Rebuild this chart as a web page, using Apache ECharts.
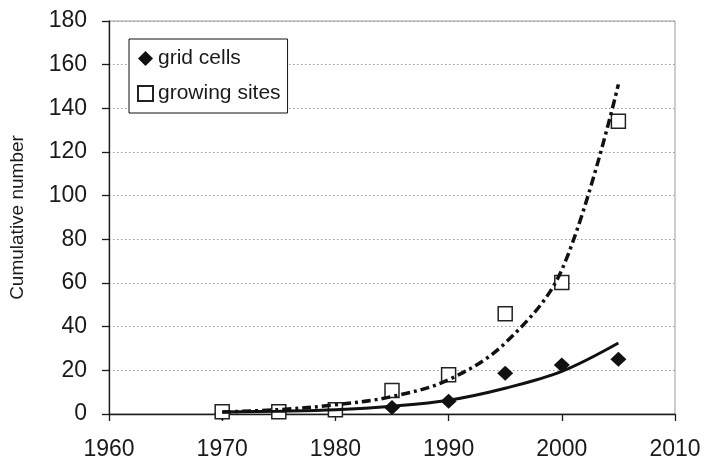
<!DOCTYPE html>
<html>
<head>
<meta charset="utf-8">
<script src="https://cdn.jsdelivr.net/npm/echarts@6/dist/echarts.min.js"></script>
<style>html,body{margin:0;padding:0;background:#fff}#c{width:704px;height:462px}</style>
</head>
<body>
<div id="c"></div>
<script>
var years = [1970, 1975, 1980, 1985, 1990, 1995, 2000, 2005];
var gridCells = [0.5, 1, 2, 3, 5.8, 18.7, 22.4, 25.1];
var growingSites = [1, 1, 2, 10.8, 18, 45.9, 60.2, 134.1];
var trendGrid = [0.9, 1.3, 2.0, 3.6, 6.3, 11.8, 19.5, 32.5];
var trendGrowing = [0.9, 2.0, 4.2, 8, 15.7, 32.5, 66, 151];
var xTicks = [1960, 1970, 1980, 1990, 2000, 2010];
var yTicks = [0, 20, 40, 60, 80, 100, 120, 140, 160, 180];

function pairs(xs, ys) { return xs.map(function (x, i) { return [x, ys[i]]; }); }

var FONT = 'Liberation Sans, Arial, sans-serif';
var chart = echarts.init(document.getElementById('c'), null, {renderer: 'canvas'});
chart.setOption({
  animation: false,
  backgroundColor: '#fff',
  grid: {left: 107, right: 29, top: 21, bottom: 48, show: true, borderColor: '#999', borderWidth: 1, backgroundColor: 'transparent'},
  legend: {
    data: ['grid cells', 'growing sites'],
    orient: 'vertical',
    left: 129, top: 39,
    padding: [9, 7, 9, 8],
    itemWidth: 15, itemHeight: 15, itemGap: 14,
    borderColor: '#111', borderWidth: 1,
    backgroundColor: '#fff',
    textStyle: {fontFamily: FONT, fontSize: 21, color: '#1a1a1a', lineHeight: 21}
  },
  xAxis: {
    type: 'value', min: xTicks[0], max: xTicks[xTicks.length - 1], interval: 10,
    axisLine: {show: true, lineStyle: {color: '#1a1a1a', width: 1.3}},
    axisTick: {show: true, inside: false, length: 7, lineStyle: {color: '#1a1a1a', width: 1.3}},
    axisLabel: {fontFamily: FONT, fontSize: 23, color: '#1a1a1a', margin: 24, formatter: function (v) { return String(v); }},
    splitLine: {show: false}
  },
  yAxis: {
    type: 'value', min: yTicks[0], max: yTicks[yTicks.length - 1], interval: 20,
    name: 'Cumulative number', nameLocation: 'middle', nameGap: 82, nameRotate: 90,
    nameTextStyle: {fontFamily: FONT, fontSize: 19, color: '#1a1a1a'},
    axisLine: {show: true, lineStyle: {color: '#1a1a1a', width: 1.3}},
    axisTick: {show: true, inside: false, length: 7, lineStyle: {color: '#1a1a1a', width: 1.3}},
    axisLabel: {fontFamily: FONT, fontSize: 23, color: '#1a1a1a', margin: 22},
    splitLine: {show: true, lineStyle: {color: '#999', width: 1, type: [1.5, 2.5]}}
  },
  series: [
    {
      name: 'grid cells', type: 'scatter', symbol: 'diamond', symbolSize: [16, 15],
      itemStyle: {color: '#111', opacity: 1},
      data: pairs(years, gridCells), z: 2
    },
    {
      name: 'growing sites', type: 'scatter', symbol: 'rect', symbolSize: 14,
      itemStyle: {color: '#fff', borderColor: '#222', borderWidth: 1.5, opacity: 1},
      data: pairs(years, growingSites), z: 2
    },
    {
      name: 'trend grid', type: 'line', smooth: 0.35, showSymbol: false, symbol: 'none',
      lineStyle: {color: '#111', width: 3},
      data: pairs(years, trendGrid), z: 3
    },
    {
      name: 'trend growing', type: 'line', smooth: 0.35, showSymbol: false, symbol: 'none',
      lineStyle: {color: '#111', width: 3.5, type: [9, 4, 3, 4]},
      data: pairs(years, trendGrowing), z: 3
    }
  ]
});
</script>
</body>
</html>
